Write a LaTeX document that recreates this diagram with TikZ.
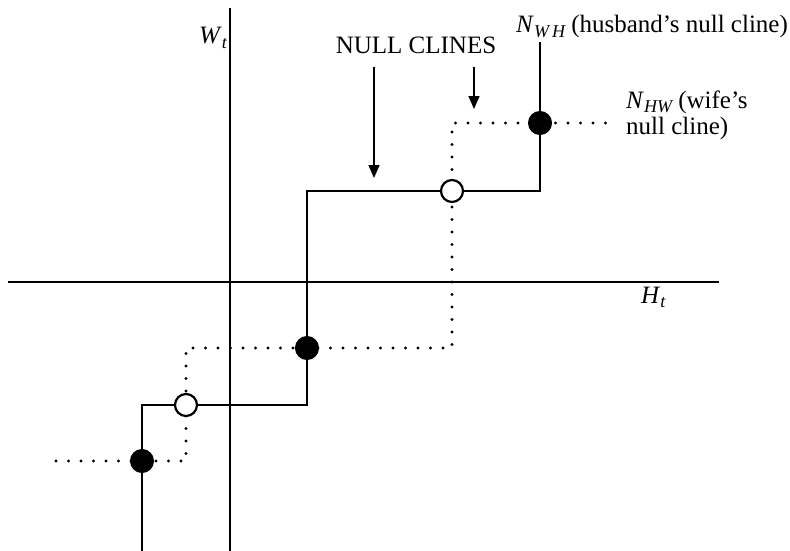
\documentclass[tikz,border=0pt]{standalone}
\usepackage{fontspec}
\setmainfont{Liberation Serif}
\usetikzlibrary{arrows.meta}
\newcommand{\sbx}[1]{\raisebox{-0.35ex}{\fontsize{18}{18}\selectfont\itshape #1}}
\begin{document}
\begin{tikzpicture}[x=1pt,y=-1pt,
  every node/.style={font=\fontsize{25}{26}\selectfont, inner sep=0pt},
  axis/.style={line width=2.5pt},
  hcline/.style={line width=2.7pt},
  wcline/.style={line width=3.4pt, dash pattern=on 0pt off 12.5pt, line cap=round},
  ptr/.style={line width=1.4pt, -{Triangle[length=13pt,width=11pt]}},
  fdot/.style={circle, fill=black, draw=black, line width=1pt, minimum size=23pt},
  odot/.style={circle, fill=white, draw=black, line width=2.2pt, minimum size=22pt}]
\useasboundingbox (0,0) rectangle (790,551);
% axes
\coordinate (xl) at (8,282);
\coordinate (xr) at (719,282);
\coordinate (yt) at (230,8);
\coordinate (yb) at (230,551);
\draw[axis] (xl) -- (xr);
\draw[axis] (yt) -- (yb);
\node[anchor=base west] (ht) at (641,303) {\textit{H}\sbx{t}};
\node[anchor=base west] (wt) at (199,44) {\textit{W}\sbx{t}};
% key points
\coordinate (f1) at (142,461);
\coordinate (o1) at (186,405);
\coordinate (f2) at (307,348);
\coordinate (o2) at (452,191);
\coordinate (f3) at (540,123);
% husband's null cline (solid)
\coordinate (hb) at (142,551);
\coordinate (h1) at (142,405);
\coordinate (h2) at (307,405);
\coordinate (h3) at (307,191);
\coordinate (h4) at (540,191);
\coordinate (ht2) at (540,42);
\draw[hcline] (hb) -- (f1) -- (h1) -- (o1) -- (h2) -- (f2) -- (h3) -- (o2) -- (h4) -- (f3) -- (ht2);
% wife's null cline (dotted)
\coordinate (wl) at (56,461);
\coordinate (w1) at (186,461);
\coordinate (w2) at (186,348);
\coordinate (w3) at (452,348);
\coordinate (w4) at (452,123);
\coordinate (wr) at (610,123);
\draw[wcline] (wl) -- (f1) -- (w1) -- (o1) -- (w2) -- (f2) -- (w3) -- (o2) -- (w4) -- (f3) -- (wr);
% equilibrium points
\node[fdot] (F1) at (f1) {};
\node[odot] (O1) at (o1) {};
\node[fdot] (F2) at (f2) {};
\node[odot] (O2) at (o2) {};
\node[fdot] (F3) at (f3) {};
% labels
\node[anchor=base] (nc) at (416,54) {NULL CLINES};
\coordinate (a1s) at (374,67);
\coordinate (a1e) at (374,178);
\coordinate (a2s) at (474,67);
\coordinate (a2e) at (474,109);
\draw[ptr] (a1s) -- (a1e);
\draw[ptr] (a2s) -- (a2e);
\node[anchor=base west] (nwh) at (516,33) {\textit{N}\sbx{W\,H} (husband’s null cline)};
\node[anchor=base west, align=left] (nhw) at (626,134) {\textit{N}\sbx{HW} (wife’s\\null cline)};
\end{tikzpicture}
\end{document}
